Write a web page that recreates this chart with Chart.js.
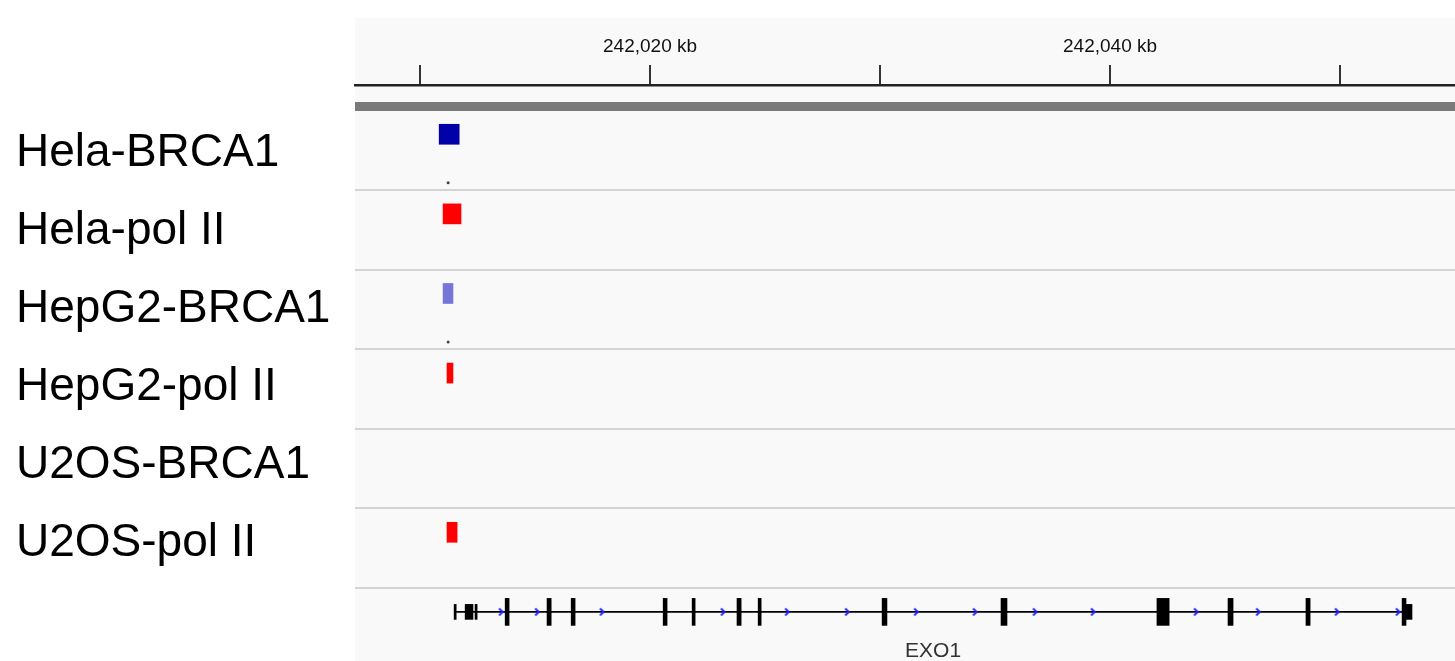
<!DOCTYPE html>
<html>
<head>
<meta charset="utf-8">
<script src="https://cdn.jsdelivr.net/npm/chart.js@4/dist/chart.umd.min.js"></script>
<style>
  html, body { margin: 0; padding: 0; background: #fff; }
  #wrap { width: 1455px; height: 661px; position: relative; }
</style>
</head>
<body>
<div id="wrap"><canvas id="igv"></canvas></div>
<script>
// track names (left panel)
var tracks = ['Hela-BRCA1', 'Hela-pol II', 'HepG2-BRCA1', 'HepG2-pol II', 'U2OS-BRCA1', 'U2OS-pol II'];

// peak intervals per track, in kb (null = no peak in view)
var peakStart = [242010.83, 242011.00, 242011.00, 242011.17, null, 242011.17];
var peakEnd   = [242011.70, 242011.78, 242011.43, 242011.43, null, 242011.61];

// small dots under some tracks
var dotTrack = [0, 2];
var dotPos   = [242011.22, 242011.22];

// top ruler
var tickKb     = [242010, 242020, 242030, 242040, 242050];
var tickLabels = ['', '242,020 kb', '', '242,040 kb', ''];
var viewStart = 242007.17;
var viewEnd   = 242055.0;

// EXO1 gene model (kb)
var geneName  = 'EXO1';
var geneStart = 242011.48;
var geneEnd   = 242053.13;
var exonStart = [242013.70, 242015.52, 242016.57, 242020.57, 242021.83, 242023.78, 242024.70,
                 242030.09, 242035.26, 242042.04, 242045.13, 242048.52, 242052.70];
var exonEnd   = [242013.87, 242015.70, 242016.74, 242020.74, 242021.96, 242023.96, 242024.83,
                 242030.30, 242035.52, 242042.57, 242045.35, 242048.70, 242052.87];
var utrStart  = [242011.48, 242011.96, 242012.39, 242052.87];
var utrEnd    = [242011.57, 242012.30, 242012.48, 242053.13];
var strandArrows = [242013.52, 242015.09, 242017.91, 242023.17, 242025.96, 242028.57, 242031.57,
                    242034.13, 242036.74, 242039.26, 242043.74, 242046.44, 242049.87, 242052.52];

var peakColors = ['#0000a8', '#ff0000', '#7676d8', '#ff0000', null, '#ff0000'];
var rowOffset = 0.3;            // feature row sits near the top of each track
var geneRow = tracks.length;    // gene track under the data tracks

var peaks = [];
peakStart.forEach(function(s, i) {
  if (s !== null) peaks.push({x: [s, peakEnd[i]], y: i + rowOffset, track: i});
});

var exons = exonStart.map(function(s, i) { return {x: [s, exonEnd[i]], y: geneRow + rowOffset}; });
var utrs = utrStart.map(function(s, i) { return {x: [s, utrEnd[i]], y: geneRow + rowOffset}; });
var arrows = strandArrows.map(function(v) { return {x: v, y: geneRow + rowOffset}; });
var dots = dotTrack.map(function(t, i) { return {x: dotPos[i], y: t + 0.91}; });

// blue ">" strand marker
var chev = document.createElement('canvas');
chev.width = 7; chev.height = 10;
var cc = chev.getContext('2d');
cc.strokeStyle = '#2222ff';
cc.lineWidth = 1.8;
cc.beginPath();
cc.moveTo(1.5, 1.5); cc.lineTo(5.2, 5); cc.lineTo(1.5, 8.5);
cc.stroke();

function noPad(s) {
  s.paddingTop = 0; s.paddingBottom = 0; s.paddingLeft = 0; s.paddingRight = 0;
}

var panelBg = {
  id: 'panelBg',
  beforeDraw: function(chart) {
    var ctx = chart.ctx, a = chart.chartArea;
    ctx.save();
    ctx.fillStyle = '#ffffff';
    ctx.fillRect(0, 0, chart.width, chart.height);
    ctx.fillStyle = '#f9f9f9';
    ctx.fillRect(a.left, 18, chart.width - a.left, chart.height - 18);
    ctx.restore();
  }
};

var geneLabel = {
  id: 'geneLabel',
  afterDatasetsDraw: function(chart) {
    var ctx = chart.ctx;
    var xs = chart.scales.x, ys = chart.scales.y;
    ctx.save();
    ctx.font = '21px "Liberation Sans", Arial, sans-serif';
    ctx.fillStyle = '#333';
    ctx.textAlign = 'center';
    ctx.textBaseline = 'middle';
    ctx.fillText(geneName, xs.getPixelForValue((geneStart + geneEnd) / 2), ys.getPixelForValue(geneRow + 0.79));
    ctx.restore();
  }
};

new Chart(document.getElementById('igv'), {
  type: 'bar',
  data: {
    datasets: [
      {
        type: 'line',
        data: [{x: geneStart, y: geneRow + rowOffset}, {x: geneEnd, y: geneRow + rowOffset}],
        borderColor: '#000',
        borderWidth: 1.6,
        pointRadius: 0,
        xAxisID: 'x', yAxisID: 'y',
        order: 5
      },
      {
        data: utrs,
        backgroundColor: '#000',
        barThickness: 15,
        grouped: false,
        xAxisID: 'x', yAxisID: 'y',
        order: 4
      },
      {
        data: exons,
        backgroundColor: '#000',
        barThickness: 27,
        grouped: false,
        xAxisID: 'x', yAxisID: 'y',
        order: 3
      },
      {
        type: 'scatter',
        data: arrows,
        pointStyle: chev,
        xAxisID: 'x', yAxisID: 'y',
        order: 1
      },
      {
        data: peaks,
        backgroundColor: function(c) { return c.raw ? peakColors[c.raw.track] : '#000'; },
        barThickness: 20,
        grouped: false,
        xAxisID: 'x', yAxisID: 'y',
        order: 2
      },
      {
        type: 'scatter',
        data: dots,
        pointRadius: 1.5,
        backgroundColor: '#444',
        borderWidth: 0,
        xAxisID: 'x', yAxisID: 'y',
        order: 1
      }
    ]
  },
  options: {
    indexAxis: 'y',
    responsive: true,
    maintainAspectRatio: false,
    animation: false,
    events: [],
    layout: { autoPadding: false, padding: { left: 16, top: 18, right: 0, bottom: 0 } },
    plugins: {
      legend: { display: false },
      tooltip: { enabled: false }
    },
    scales: {
      x: {
        type: 'linear',
        position: 'top',
        min: viewStart,
        max: viewEnd,
        offset: false,
        afterFit: function(s) { s.height = 67; noPad(s); },
        afterBuildTicks: function(s) { s.ticks = tickKb.map(function(v) { return {value: v}; }); },
        ticks: {
          autoSkip: false,
          maxRotation: 0,
          padding: 7,
          color: '#111',
          font: { family: '"Liberation Sans", Arial, sans-serif', size: 19 },
          callback: function(v, i) { return tickLabels[i]; }
        },
        grid: { drawOnChartArea: false, tickLength: 20, lineWidth: 2, color: '#333', offset: false },
        border: { display: true, color: '#222', width: 2.5 }
      },
      y: {
        type: 'linear',
        position: 'left',
        reverse: true,
        min: -0.319,
        max: 6.917,
        offset: false,
        afterFit: function(s) { s.width = 0; noPad(s); },
        afterBuildTicks: function(s) {
          var t = [{value: -0.05}];
          for (var i = 1; i <= tracks.length; i++) t.push({value: i});
          s.ticks = t;
        },
        ticks: { display: false },
        grid: {
          drawTicks: false,
          offset: false,
          lineWidth: function(c) { return c.tick && c.tick.value < 0 ? 9 : 2; },
          color: function(c) { return c.tick && c.tick.value < 0 ? '#7a7a7a' : '#d4d4d4'; }
        },
        border: { display: false }
      },
      y2: {
        type: 'linear',
        position: 'left',
        reverse: true,
        min: -0.371,
        max: 7.013,
        offset: false,
        afterFit: function(s) { s.width = 339; noPad(s); },
        afterBuildTicks: function(s) {
          s.ticks = tracks.map(function(n, i) { return {value: i + 0.5}; });
        },
        ticks: {
          crossAlign: 'far',
          color: '#000',
          font: { family: '"Liberation Sans", Arial, sans-serif', size: 46 },
          callback: function(v, i) { return tracks[i]; }
        },
        grid: { display: false, offset: false },
        border: { display: false }
      }
    }
  },
  plugins: [panelBg, geneLabel]
});
</script>
</body>
</html>
